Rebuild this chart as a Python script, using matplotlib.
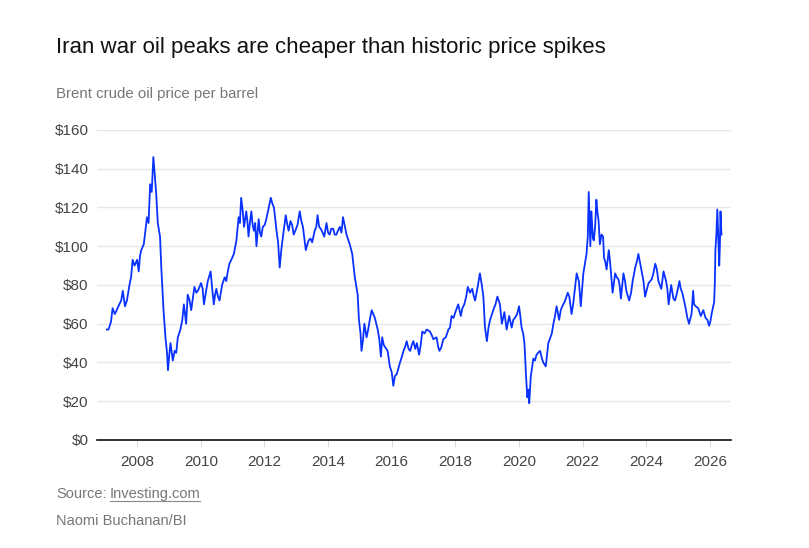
import matplotlib
matplotlib.use("Agg")
import matplotlib.pyplot as plt

# Brent crude, approximate readings (decimal year, USD per barrel)
years = [
    2007.05, 2007.10, 2007.18, 2007.23, 2007.30, 2007.36, 2007.44, 2007.50, 2007.55, 2007.62,
    2007.68, 2007.76, 2007.81, 2007.86, 2007.92, 2008.00, 2008.05, 2008.09, 2008.13, 2008.21,
    2008.26, 2008.31, 2008.36, 2008.41, 2008.46, 2008.51, 2008.55, 2008.60, 2008.65, 2008.72,
    2008.76, 2008.83, 2008.89, 2008.94, 2008.97, 2009.01, 2009.05, 2009.09, 2009.12, 2009.18,
    2009.23, 2009.28, 2009.36, 2009.42, 2009.47, 2009.54, 2009.59, 2009.65, 2009.70, 2009.76,
    2009.80, 2009.86, 2009.91, 2009.96, 2010.01, 2010.06, 2010.10, 2010.16, 2010.22, 2010.31,
    2010.36, 2010.41, 2010.45, 2010.49, 2010.54, 2010.59, 2010.67, 2010.75, 2010.80, 2010.85,
    2010.90, 2010.96, 2011.04, 2011.12, 2011.19, 2011.23, 2011.27, 2011.32, 2011.36, 2011.43,
    2011.47, 2011.50, 2011.55, 2011.59, 2011.63, 2011.67, 2011.71, 2011.75, 2011.82, 2011.86,
    2011.90, 2011.95, 2012.01, 2012.06, 2012.11, 2012.20, 2012.25, 2012.30, 2012.38, 2012.43,
    2012.48, 2012.53, 2012.59, 2012.67, 2012.71, 2012.76, 2012.82, 2012.87, 2012.92, 2012.97,
    2013.04, 2013.11, 2013.16, 2013.21, 2013.30, 2013.35, 2013.39, 2013.45, 2013.50, 2013.58,
    2013.63, 2013.67, 2013.72, 2013.77, 2013.83, 2013.88, 2013.95, 2014.00, 2014.05, 2014.10,
    2014.16, 2014.21, 2014.26, 2014.31, 2014.37, 2014.42, 2014.47, 2014.52, 2014.58, 2014.64,
    2014.68, 2014.76, 2014.84, 2014.89, 2014.93, 2014.97, 2015.02, 2015.05, 2015.10, 2015.14,
    2015.21, 2015.26, 2015.31, 2015.37, 2015.42, 2015.47, 2015.56, 2015.61, 2015.66, 2015.70,
    2015.75, 2015.79, 2015.87, 2015.94, 2016.00, 2016.05, 2016.10, 2016.16, 2016.26, 2016.32,
    2016.37, 2016.42, 2016.47, 2016.53, 2016.58, 2016.63, 2016.68, 2016.74, 2016.79, 2016.86,
    2016.91, 2016.96, 2017.03, 2017.10, 2017.20, 2017.26, 2017.31, 2017.41, 2017.46, 2017.50,
    2017.56, 2017.62, 2017.70, 2017.78, 2017.83, 2017.88, 2017.94, 2018.00, 2018.09, 2018.13,
    2018.17, 2018.22, 2018.28, 2018.34, 2018.39, 2018.46, 2018.53, 2018.58, 2018.62, 2018.70,
    2018.77, 2018.83, 2018.88, 2018.93, 2018.99, 2019.04, 2019.09, 2019.19, 2019.26, 2019.32,
    2019.40, 2019.46, 2019.54, 2019.61, 2019.69, 2019.77, 2019.82, 2019.87, 2019.94, 2020.00,
    2020.04, 2020.08, 2020.13, 2020.17, 2020.22, 2020.26, 2020.30, 2020.32, 2020.37, 2020.45,
    2020.50, 2020.55, 2020.60, 2020.66, 2020.72, 2020.76, 2020.84, 2020.92, 2021.03, 2021.08,
    2021.13, 2021.18, 2021.26, 2021.31, 2021.36, 2021.45, 2021.53, 2021.58, 2021.65, 2021.70,
    2021.74, 2021.81, 2021.88, 2021.94, 2022.02, 2022.08, 2022.12, 2022.16, 2022.19, 2022.22,
    2022.24, 2022.27, 2022.29, 2022.32, 2022.35, 2022.39, 2022.43, 2022.46, 2022.50, 2022.54,
    2022.59, 2022.64, 2022.67, 2022.71, 2022.75, 2022.82, 2022.86, 2022.90, 2022.94, 2023.02,
    2023.07, 2023.12, 2023.16, 2023.20, 2023.28, 2023.33, 2023.37, 2023.46, 2023.52, 2023.57,
    2023.65, 2023.70, 2023.75, 2023.83, 2023.91, 2023.96, 2024.02, 2024.07, 2024.17, 2024.22,
    2024.28, 2024.33, 2024.38, 2024.47, 2024.54, 2024.62, 2024.66, 2024.70, 2024.74, 2024.78,
    2024.85, 2024.90, 2024.95, 2025.04, 2025.08, 2025.13, 2025.21, 2025.29, 2025.34, 2025.42,
    2025.47, 2025.50, 2025.55, 2025.63, 2025.71, 2025.79, 2025.86, 2025.92, 2025.97, 2026.01,
    2026.05, 2026.10, 2026.13, 2026.15, 2026.17, 2026.20, 2026.23, 2026.26, 2026.29, 2026.31,
    2026.33, 2026.36,
]
prices = [
    57, 57, 61, 68, 65, 67, 70, 72, 77, 69,
    72, 80, 84, 93, 90, 93, 87, 95, 98, 101,
    108, 115, 112, 132, 128, 146, 138, 127, 112, 105,
    89, 67, 53, 45, 36, 44, 50, 45, 41, 46,
    45, 53, 57, 62, 70, 60, 75, 72, 67, 74,
    79, 76, 77, 79, 81, 78, 70, 76, 82, 87,
    78, 70, 75, 78, 74, 72, 80, 84, 82, 87,
    91, 93, 96, 103, 115, 112, 125, 118, 110, 118,
    112, 105, 113, 118, 111, 108, 112, 100, 114, 107,
    105, 110, 111, 114, 118, 125, 122, 120, 108, 102,
    89, 98, 106, 116, 112, 108, 113, 111, 106, 108,
    111, 118, 113, 110, 98, 101, 103, 104, 102, 108,
    110, 116, 110, 109, 107, 105, 112, 107, 106, 109,
    109, 106, 106, 108, 110, 107, 115, 111, 106, 103,
    101, 96, 84, 79, 75, 62, 55, 46, 52, 60,
    53, 57, 62, 67, 65, 63, 57, 52, 43, 53,
    49, 48, 46, 38, 35, 28, 33, 34, 40, 43,
    46, 48, 51, 47, 46, 49, 51, 47, 50, 44,
    49, 56, 55, 57, 56, 54, 52, 53, 48, 46,
    48, 52, 53, 57, 58, 64, 63, 66, 70, 67,
    64, 68, 70, 74, 79, 76, 78, 74, 72, 79,
    86, 80, 74, 58, 51, 58, 62, 67, 70, 74,
    70, 60, 66, 57, 64, 58, 62, 63, 65, 69,
    64, 58, 55, 50, 33, 22, 26, 19, 33, 42,
    41, 44, 45, 46, 42, 40, 38, 50, 55, 60,
    64, 69, 62, 67, 69, 72, 76, 74, 65, 70,
    76, 86, 82, 69, 86, 92, 96, 105, 128, 112,
    100, 118, 113, 104, 103, 110, 124, 118, 113, 101,
    106, 105, 94, 92, 88, 98, 92, 84, 76, 86,
    84, 83, 80, 73, 86, 82, 77, 72, 76, 82,
    89, 92, 96, 89, 82, 74, 78, 81, 83, 86,
    91, 88, 82, 78, 87, 82, 78, 70, 75, 80,
    73, 72, 75, 82, 78, 76, 70, 63, 60, 65,
    77, 70, 69, 68, 64, 67, 63, 62, 59, 61,
    65, 69, 71, 80, 98, 106, 119, 104, 90, 100,
    118, 106,
]

yticks = [0, 20, 40, 60, 80, 100, 120, 140, 160]
xticks = [2008, 2010, 2012, 2014, 2016, 2018, 2020, 2022, 2024, 2026]

plt.rcParams['font.family'] = ['Liberation Sans', 'DejaVu Sans']

fig = plt.figure(figsize=(8.09, 5.48), dpi=100)
ax = fig.add_axes([0.1199, 0.1971, 0.7837, 0.5657])

ax.plot(years, prices, color='#0a32ff', linewidth=1.3)

ax.set_xlim(2006.74, 2026.66)
ax.set_ylim(0, 160)
ax.set_yticks(yticks)
ax.set_yticklabels([f'${v}' for v in yticks])
ax.set_xticks(xticks)
ax.set_xticklabels([str(v) for v in xticks])

ax.grid(axis='y', color='#e6e6e6', linewidth=1)
ax.set_axisbelow(True)
for side in ['top', 'right', 'left']:
    ax.spines[side].set_visible(False)
ax.spines['bottom'].set_color('#111111')
ax.spines['bottom'].set_linewidth(1.2)
ax.tick_params(axis='y', length=0, pad=6, labelsize=11, labelcolor='#444444')
ax.tick_params(axis='x', length=5, color='#dddddd', pad=6, labelsize=11, labelcolor='#444444')

fig.text(56/809, 1 - 48/548, 'Iran war oil peaks are cheaper than historic price spikes',
         fontsize=16, color='#111111', va='center', ha='left')
fig.text(56/809, 1 - 94/548, 'Brent crude oil price per barrel',
         fontsize=10.8, color='#777777', va='center', ha='left')

base_y = 1 - 498/548
src = fig.text(56/809, base_y, 'Source:', fontsize=10.5, color='#777777', va='baseline', ha='left')
fig.canvas.draw()
bb = src.get_window_extent()
link = fig.text((bb.x1 + 3) / 809, base_y, 'Investing.com', fontsize=10.5, color='#777777',
                va='baseline', ha='left')
fig.canvas.draw()
lb = link.get_window_extent()
uy = base_y - 3 / 548
fig.add_artist(plt.Line2D([lb.x0 / 809, lb.x1 / 809], [uy, uy], color='#888888', linewidth=0.8))
fig.text(56/809, 1 - 525/548, 'Naomi Buchanan/BI', fontsize=10.5, color='#777777',
         va='baseline', ha='left')

fig.savefig('out.png', dpi=100)
